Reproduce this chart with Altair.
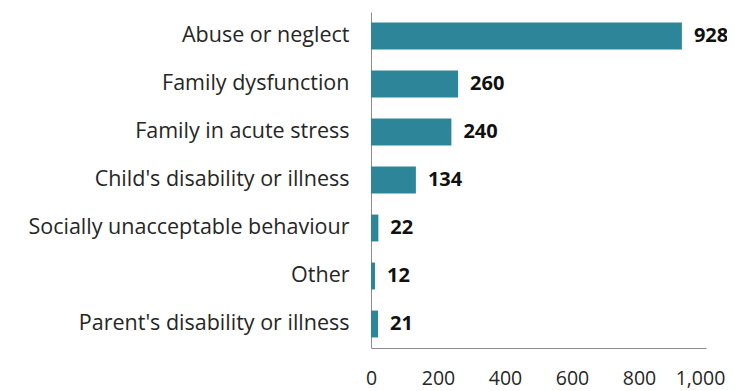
import altair as alt
import pandas as pd

categories = [
    "Abuse or neglect",
    "Family dysfunction",
    "Family in acute stress",
    "Child's disability or illness",
    "Socially unacceptable behaviour",
    "Other",
    "Parent's disability or illness",
]
values = [928, 260, 240, 134, 22, 12, 21]
x_ticks = [0, 200, 400, 600, 800, 1000]

df = pd.DataFrame({"category": categories, "value": values})

FONT = "Open Sans"

y_enc = alt.Y(
    "category:N",
    sort=categories,
    title=None,
    scale=alt.Scale(paddingInner=0.44, paddingOuter=0.22),
    axis=alt.Axis(
        ticks=False,
        domain=True,
        domainColor="#8c8c8c",
        labelFont=FONT,
        labelFontSize=21.5,
        labelColor="#262626",
        labelPadding=22,
        labelLimit=400,
    ),
)

x_enc = alt.X(
    "value:Q",
    title=None,
    scale=alt.Scale(domain=[0, 1000], nice=False),
    axis=alt.Axis(
        values=x_ticks,
        format=",d",
        ticks=False,
        grid=False,
        domain=True,
        domainColor="#8c8c8c",
        labelFont=FONT,
        labelFontSize=19.5,
        labelColor="#262626",
        labelPadding=21,
        labelFlush=False,
        labelOffset={"condition": {"test": "datum.value === 1000", "value": -6}, "value": 0},
    ),
)

bars = alt.Chart(df).mark_bar(color="#2c8598").encode(x=x_enc, y=y_enc)

labels = alt.Chart(df).mark_text(
    align="left", baseline="middle", dx=12, font=FONT, fontSize=20,
    fontWeight="bold", color="#111111"
).encode(x="value:Q", y=alt.Y("category:N", sort=categories), text="value:Q")

chart = (
    alt.layer(bars, labels)
    .properties(
        width=335,
        height=336,
        autosize=alt.AutoSizeParams(type="none"),
        padding={"left": 363, "top": 4, "right": 21, "bottom": 45},
        background="white",
    )
    .configure_view(stroke=None)
)

chart.save("out.html", embed_options={"renderer": "svg", "actions": False})
